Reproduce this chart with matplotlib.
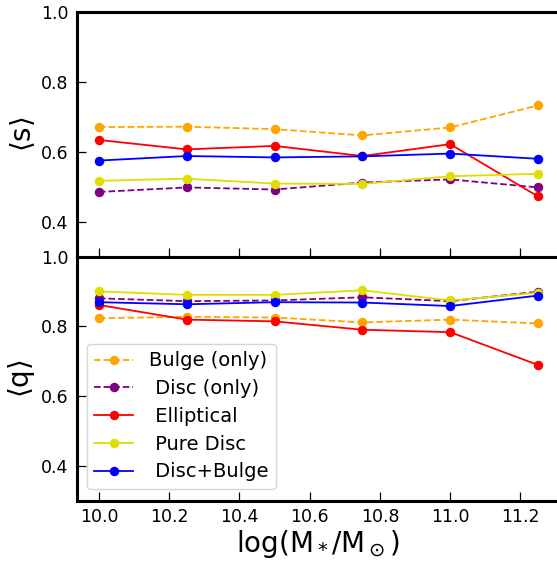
import matplotlib
matplotlib.use("Agg")
import matplotlib.pyplot as plt

# Stellar-mass bins (log M*/Msun)
log_mass = [10.0, 10.25, 10.5, 10.75, 11.0, 11.25]

series_names = ["Bulge (only)", " Disc (only)", " Elliptical", " Pure Disc", " Disc+Bulge"]
series_colors = ["orange", "purple", "red", "#dede00", "blue"]
series_styles = ["--", "--", "-", "-", "-"]

# Mean intermediate-to-major axis ratio <s>
s_bulge = [0.671, 0.672, 0.665, 0.647, 0.670, 0.733]
s_disc = [0.485, 0.498, 0.492, 0.512, 0.521, 0.498]
s_elliptical = [0.634, 0.607, 0.617, 0.588, 0.622, 0.472]
s_pure_disc = [0.517, 0.523, 0.509, 0.508, 0.530, 0.537]
s_disc_bulge = [0.575, 0.588, 0.584, 0.587, 0.595, 0.580]

# Mean minor-to-major axis ratio <q>
q_bulge = [0.823, 0.827, 0.825, 0.811, 0.819, 0.808]
q_disc = [0.880, 0.872, 0.874, 0.883, 0.872, 0.899]
q_elliptical = [0.861, 0.819, 0.814, 0.790, 0.783, 0.689]
q_pure_disc = [0.900, 0.890, 0.890, 0.903, 0.874, 0.896]
q_disc_bulge = [0.869, 0.863, 0.869, 0.868, 0.858, 0.888]

s_values = [s_bulge, s_disc, s_elliptical, s_pure_disc, s_disc_bulge]
q_values = [q_bulge, q_disc, q_elliptical, q_pure_disc, q_disc_bulge]

fig = plt.figure(figsize=(5.57, 5.63), dpi=100)
left, right = 0.1382, 1.0054
ax_s = fig.add_axes([left, 0.5444, right - left, 0.9782 - 0.5444])
ax_q = fig.add_axes([left, 0.1108, right - left, 0.5444 - 0.1108], sharex=ax_s)

for ax, vals in ((ax_s, s_values), (ax_q, q_values)):
    for name, color, ls, v in zip(series_names, series_colors, series_styles, vals):
        ax.plot(log_mass, v, ls=ls, color=color, marker="o", markersize=5.8,
                linewidth=1.3, label=name)
    ax.set_ylim(0.3, 1.0)
    ax.set_yticks([0.4, 0.6, 0.8, 1.0])
    for sp in ax.spines.values():
        sp.set_linewidth(2.2)
    ax.tick_params(axis="both", direction="in", length=6.5, width=0.9,
                   labelsize=12.5, pad=6)

ax_s.set_xlim(9.9375, 11.3125)
ax_s.set_xticks([10.0, 10.2, 10.4, 10.6, 10.8, 11.0, 11.2])
ax_s.tick_params(axis="x", labelbottom=False)
ax_q.tick_params(axis="x", pad=5)

ax_s.set_ylabel(r"$\langle \mathrm{s} \rangle$", fontsize=20)
ax_q.set_ylabel(r"$\langle \mathrm{q} \rangle$", fontsize=20)
ax_s.yaxis.set_label_coords(-0.083, 0.5)
ax_q.yaxis.set_label_coords(-0.083, 0.5)
ax_q.set_xlabel(r"log(M$_*$/M$_\odot$)", fontsize=20, labelpad=2)

ax_q.legend(loc="lower left", bbox_to_anchor=(0.02, 0.047), borderaxespad=0,
            fontsize=14, labelspacing=0.45)

fig.savefig("out.png", dpi=100)
